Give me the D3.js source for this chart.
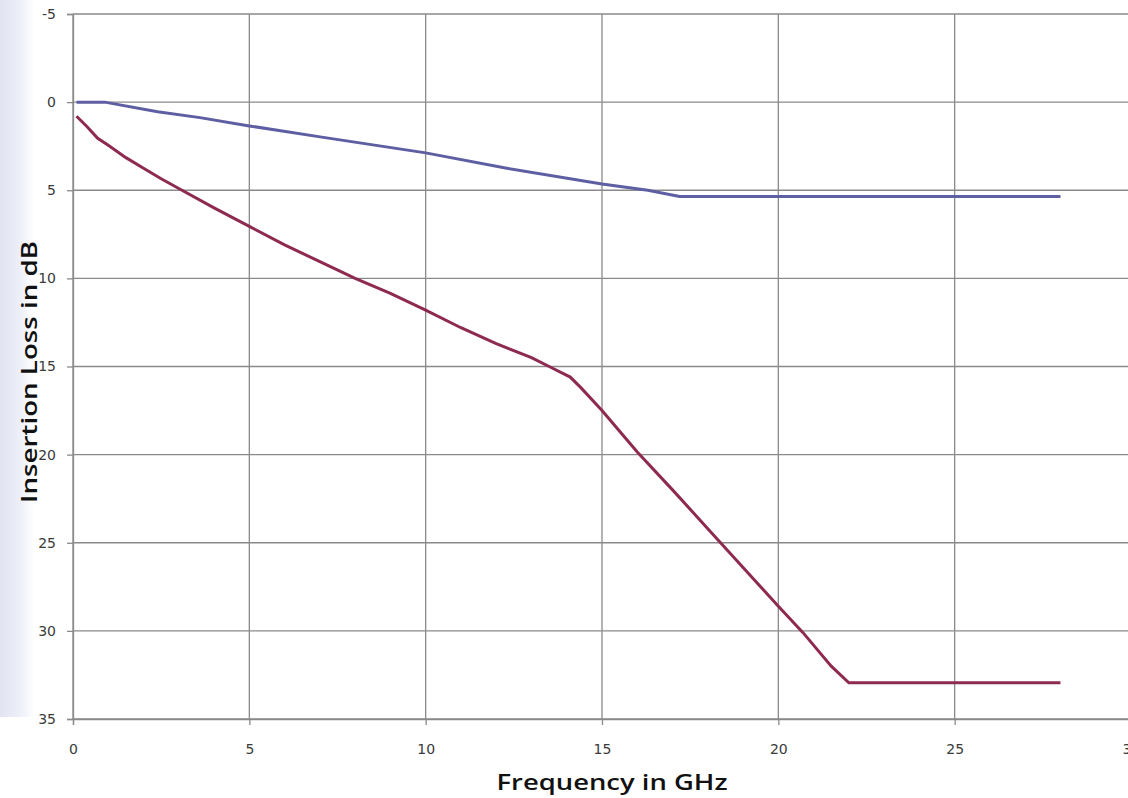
<!DOCTYPE html>
<meta charset="utf-8">
<style>
body { margin: 0; background: #fff; }
svg { display: block; }
.tick text { font-family: 'DejaVu Sans', sans-serif; font-size: 14px; fill: #3a3a3a; }
.title { font-family: 'Open Sans', sans-serif; font-weight: 600; font-size: 22px; fill: #111; }
</style>
<body>
<script src="https://d3js.org/d3.v7.min.js"></script>
<script>
	var width = 1128,
		height = 798;

	// frequency in GHz, insertion loss in dB
	var blueFreq = [0.1, 0.9, 2.4, 3.6, 5, 7.1, 10, 12.3, 15, 16.3, 17.2, 28];
	var blueLoss = [0, 0, 0.55, 0.88, 1.35, 2.0, 2.88, 3.75, 4.65, 5.0, 5.35, 5.35];

	var redFreq = [0.1, 0.4, 0.7, 1.0, 1.5, 2.0, 2.5, 3.0, 4.0, 5.0, 6.0, 7.0, 8.0, 9.0, 10.0, 11.0, 12.0, 13.0, 13.6, 14.1, 14.4, 15.0, 16.0, 17.0, 18.0, 19.0, 20.0, 20.7, 21.5, 22.0, 28.0];
	var redLoss = [0.8, 1.4, 2.05, 2.45, 3.15, 3.75, 4.35, 4.9, 6.0, 7.05, 8.1, 9.05, 10.0, 10.85, 11.8, 12.8, 13.7, 14.5, 15.1, 15.6, 16.2, 17.5, 19.85, 22.0, 24.2, 26.4, 28.6, 30.1, 32.0, 32.95, 32.95];

	var xTicks = [0, 5, 10, 15, 20, 25, 30];
	var yTicks = [-5, 0, 5, 10, 15, 20, 25, 30, 35];

	var xTitle = "Frequency in GHz";
	var yTitle = "Insertion Loss in dB";

	var svg = d3.select("body").append("svg")
		.attr("width", width)
		.attr("height", height);

	// pale stripe down the left edge
	var grad = svg.append("defs").append("linearGradient")
		.attr("id", "edge")
		.attr("x1", 0).attr("x2", 1).attr("y1", 0).attr("y2", 0);
	grad.append("stop").attr("offset", "0%").attr("stop-color", "#e1e3f2");
	grad.append("stop").attr("offset", "55%").attr("stop-color", "#eceef8");
	grad.append("stop").attr("offset", "100%").attr("stop-color", "#ffffff");
	svg.append("rect")
		.attr("x", 0).attr("y", 0)
		.attr("width", 34).attr("height", 717)
		.attr("fill", "url(#edge)");

	var x = d3.scaleLinear().domain([0, 30]).range([73, 1131]);
	var y = d3.scaleLinear().domain([-5, 35]).range([14, 719]);

	var gridColor = "#8a8a8a";

	// vertical grid
	svg.append("g")
		.selectAll("line")
		.data(xTicks)
		.enter().append("line")
			.attr("x1", function(d) { return x(d); })
			.attr("x2", function(d) { return x(d); })
			.attr("y1", y(-5))
			.attr("y2", y(35))
			.style("stroke", gridColor)
			.style("stroke-width", 1.3);

	// horizontal grid
	svg.append("g")
		.selectAll("line")
		.data(yTicks)
		.enter().append("line")
			.attr("x1", x(0))
			.attr("x2", x(30))
			.attr("y1", function(d) { return y(d); })
			.attr("y2", function(d) { return y(d); })
			.style("stroke", gridColor)
			.style("stroke-width", 1.3);

	var fmt = function(d) { return String(d); }; // plain hyphen for -5

	var xAxis = svg.append("g")
		.attr("transform", "translate(0," + y(35) + ")")
		.call(d3.axisBottom(x).tickValues(xTicks).tickFormat(fmt).tickSize(6).tickPadding(19));
	var yAxis = svg.append("g")
		.attr("transform", "translate(" + x(0) + ",0)")
		.call(d3.axisLeft(y).tickValues(yTicks).tickFormat(fmt).tickSize(6).tickPadding(11));

	[xAxis, yAxis].forEach(function(a) {
		a.select(".domain").style("stroke", gridColor).style("stroke-width", 1.3);
		a.selectAll(".tick line").style("stroke", gridColor).style("stroke-width", 1.3);
	});

	var line = d3.line()
		.x(function(d) { return x(d[0]); })
		.y(function(d) { return y(d[1]); });

	svg.append("path")
		.datum(d3.zip(blueFreq, blueLoss))
		.attr("d", line)
		.attr("fill", "none")
		.style("stroke", "#5e5ea3")
		.style("stroke-width", 3);

	svg.append("path")
		.datum(d3.zip(redFreq, redLoss))
		.attr("d", line)
		.attr("fill", "none")
		.style("stroke", "#8e2a50")
		.style("stroke-width", 3);

	svg.append("text")
		.attr("class", "title")
		.attr("x", 612)
		.attr("y", 790)
		.attr("text-anchor", "middle")
		.attr("textLength", 231)
		.attr("lengthAdjust", "spacingAndGlyphs")
		.text(xTitle);

	svg.append("text")
		.attr("class", "title")
		.attr("transform", "translate(37,372) rotate(-90)")
		.attr("text-anchor", "middle")
		.attr("textLength", 262)
		.attr("lengthAdjust", "spacingAndGlyphs")
		.text(yTitle);
</script>
</body>
</html>
